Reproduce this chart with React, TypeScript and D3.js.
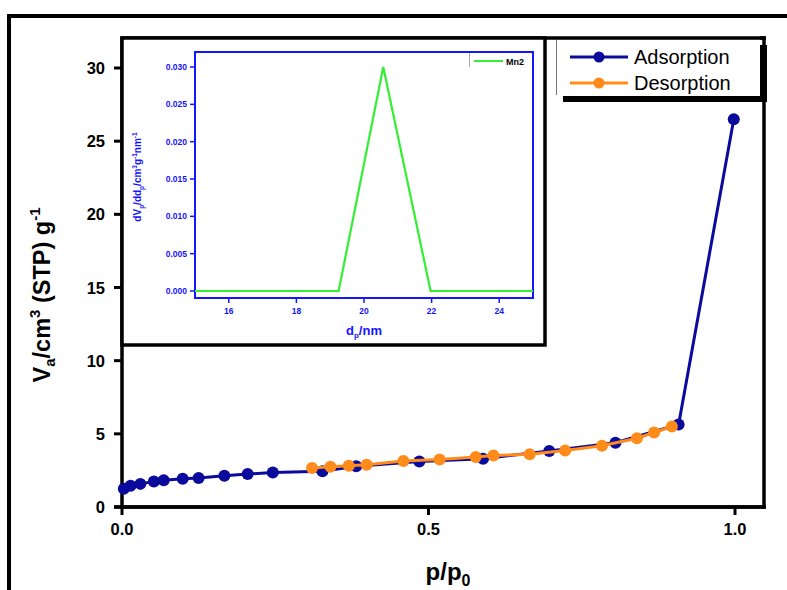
import React from 'react';
import * as d3 from 'd3';

// isotherm data
const adsP = [0.003, 0.014, 0.030, 0.052, 0.068, 0.099, 0.125, 0.167, 0.205, 0.246, 0.327, 0.382, 0.485, 0.589, 0.697, 0.805, 0.908, 0.998];
const adsV = [1.25, 1.45, 1.58, 1.75, 1.83, 1.93, 1.98, 2.14, 2.25, 2.36, 2.45, 2.78, 3.11, 3.30, 3.82, 4.39, 5.64, 26.5];
const desP = [0.310, 0.340, 0.370, 0.399, 0.459, 0.518, 0.577, 0.606, 0.665, 0.723, 0.783, 0.840, 0.868, 0.897];
const desV = [2.66, 2.75, 2.82, 2.89, 3.14, 3.25, 3.41, 3.52, 3.61, 3.86, 4.18, 4.70, 5.09, 5.50];

// pore size distribution (inset)
const psdD = [15, 19.25, 20.57, 21.97, 25];
const psdV = [0, 0, 0.030, 0, 0];

const xTicks = [0, 0.5, 1.0];
const yTicks = [0, 5, 10, 15, 20, 25, 30];
const insetXTicks = [16, 18, 20, 22, 24];
const insetYTicks = [0, 0.005, 0.01, 0.015, 0.02, 0.025, 0.03];

const BLUE = '#0a0a9c';
const ORANGE = '#ff8c1a';
const GREEN = '#33ee33';
const IBLUE = '#1414ff';
const FONT = 'Liberation Sans, Arial, sans-serif';

export default function App() {
  const x = d3.scaleLinear().domain([0, 1]).range([122, 735]);
  const y = d3.scaleLinear().domain([0, 30]).range([507, 68]);
  const ix = d3.scaleLinear().domain([15, 25]).range([195, 533]);
  const iy = d3.scaleLinear().domain([0, 0.03]).range([291, 67]);

  const ads = adsP.map((p, i) => [p, adsV[i]] as [number, number]);
  const des = desP.map((p, i) => [p, desV[i]] as [number, number]);
  const psd = psdD.map((d, i) => [d, psdV[i]] as [number, number]);

  const line = d3.line<[number, number]>().x(d => x(d[0])).y(d => y(d[1]));
  const iline = d3.line<[number, number]>().x(d => ix(d[0])).y(d => iy(d[1]));

  return (
    <svg width={787} height={590} style={{ position: 'absolute', left: 0, top: 0, background: '#fff' }} fontFamily={FONT}>
      {/* outer frame */}
      <path d="M9,590 L9,16 L787,16" fill="none" stroke="#000" strokeWidth={4} />

      {/* main plot frame */}
      <rect x={122} y={38} width={642} height={469} fill="none" stroke="#000" strokeWidth={3.5} />
      <line x1={114} x2={766} y1={507} y2={507} stroke="#000" strokeWidth={3.5} />

      {yTicks.map(t => (
        <g key={t}>
          <line x1={114} x2={122} y1={y(t)} y2={y(t)} stroke="#000" strokeWidth={3} />
          <text x={105} y={y(t) + 6} textAnchor="end" fontSize={16.5} fontWeight="bold">{t}</text>
        </g>
      ))}
      {xTicks.map(t => (
        <g key={t}>
          <line x1={x(t)} x2={x(t)} y1={507} y2={515} stroke="#000" strokeWidth={3} />
          <text x={x(t)} y={535} textAnchor="middle" fontSize={16.5} fontWeight="bold">{t.toFixed(1)}</text>
        </g>
      ))}

      <text x={448} y={580} textAnchor="middle" fontSize={24} fontWeight="bold">
        p/p<tspan fontSize={16} dy={6}>0</tspan>
      </text>
      <text transform="translate(50,295) rotate(-90)" textAnchor="middle" fontSize={23.5} fontWeight="bold">
        V<tspan fontSize={15} dy={5}>a</tspan>
        <tspan dy={-5}>/cm</tspan>
        <tspan fontSize={15} dy={-10}>3</tspan>
        <tspan dy={10}> (STP) g</tspan>
        <tspan fontSize={15} dy={-10}>-1</tspan>
      </text>

      {/* isotherm */}
      <path d={line(ads) ?? ''} fill="none" stroke={BLUE} strokeWidth={3} />
      {ads.map((d, i) => (
        <circle key={'a' + i} cx={x(d[0])} cy={y(d[1])} r={6} fill={BLUE} />
      ))}
      <path d={line(des) ?? ''} fill="none" stroke={ORANGE} strokeWidth={3} />
      {des.map((d, i) => (
        <circle key={'d' + i} cx={x(d[0])} cy={y(d[1])} r={6} fill={ORANGE} />
      ))}

      {/* legend */}
      <rect x={563} y={45} width={204} height={57} fill="#000" />
      <rect x={556} y={40} width={204} height={56} fill="#fff" />
      <line x1={556.5} x2={556.5} y1={40} y2={95} stroke="#777" strokeWidth={1} />
      <line x1={760} x2={766} y1={38} y2={38} stroke="#000" strokeWidth={3.5} />
      <line x1={570} x2={628} y1={57} y2={57} stroke={BLUE} strokeWidth={3} />
      <circle cx={599} cy={57} r={5.5} fill={BLUE} />
      <text x={634} y={64} fontSize={20}>Adsorption</text>
      <line x1={570} x2={628} y1={83} y2={83} stroke={ORANGE} strokeWidth={3} />
      <circle cx={599} cy={83} r={5.5} fill={ORANGE} />
      <text x={634} y={90} fontSize={20}>Desorption</text>

      {/* inset */}
      <rect x={122} y={38} width={423} height={307} fill="#fff" stroke="#000" strokeWidth={3.5} />
      <rect x={195} y={52} width={338} height={246} fill="none" stroke={IBLUE} strokeWidth={2} />
      {insetYTicks.map(t => (
        <g key={t}>
          <line x1={190} x2={195} y1={iy(t)} y2={iy(t)} stroke={IBLUE} strokeWidth={1.5} />
          <text x={187} y={iy(t) + 3} textAnchor="end" fontSize={8.5} fontWeight="bold" fill={IBLUE}>{t.toFixed(3)}</text>
        </g>
      ))}
      {insetXTicks.map(t => (
        <g key={t}>
          <line x1={ix(t)} x2={ix(t)} y1={298} y2={303} stroke={IBLUE} strokeWidth={1.5} />
          <text x={ix(t)} y={314} textAnchor="middle" fontSize={8.5} fontWeight="bold" fill={IBLUE}>{t}</text>
        </g>
      ))}
      <text x={364} y={335} textAnchor="middle" fontSize={13} fontWeight="bold" fill={IBLUE}>
        d<tspan fontSize={8} dy={3}>p</tspan><tspan dy={-3}>/nm</tspan>
      </text>
      <text transform="translate(141,177) rotate(-90)" textAnchor="middle" fontSize={10} fontWeight="bold" fill={IBLUE}>
        dV<tspan fontSize={6.5} dy={2.5}>p</tspan>
        <tspan dy={-2.5}>/dd</tspan>
        <tspan fontSize={6.5} dy={2.5}>p</tspan>
        <tspan dy={-2.5}>/cm</tspan>
        <tspan fontSize={6.5} dy={-4}>3</tspan>
        <tspan dy={4}>g</tspan>
        <tspan fontSize={6.5} dy={-4}>-1</tspan>
        <tspan dy={4}>nm</tspan>
        <tspan fontSize={6.5} dy={-4}>-1</tspan>
      </text>
      <path d={iline(psd) ?? ''} fill="none" stroke={GREEN} strokeWidth={2.2} />
      <line x1={469.5} x2={469.5} y1={53} y2={67} stroke="#aaa" strokeWidth={1} />
      <line x1={474} x2={503} y1={61} y2={61} stroke={GREEN} strokeWidth={2} />
      <text x={506} y={64.5} fontSize={9} fontWeight="bold">Mn2</text>
    </svg>
  );
}
